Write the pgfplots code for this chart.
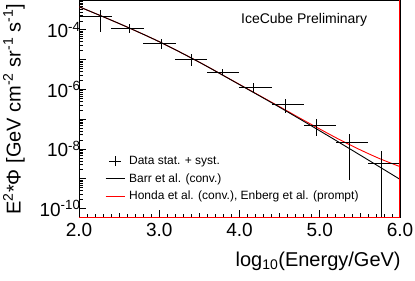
\documentclass[border=0pt]{standalone}
\usepackage{fontspec}
\setmainfont{Liberation Sans}
\usepackage{pgfplots}
\pgfplotsset{compat=1.18}
\usepackage{pgfplotstable}

\pgfplotstableread{
x y xm xp ym yp
2.262 2.91e-4 0.262 0.145 2.045e-4 1.71e-4
2.627 1.125e-4 0.227 0.187 3.42e-5 4.42e-5
3.022 3.53e-5 0.222 0.187 1.25e-5 1.40e-5
3.404 1.05e-5 0.204 0.196 4.2e-6 5.0e-6
3.791 3.77e-6 0.191 0.209 8.2e-7 1.03e-6
4.172 1.15e-6 0.172 0.228 3.2e-7 4.3e-7
4.567 3.02e-7 0.167 0.233 1.43e-7 1.67e-7
4.962 6.21e-8 0.162 0.238 3.45e-8 3.79e-8
5.364 1.64e-8 0.164 0.236 1.5525e-8 1.58e-8
5.772 3.18e-9 0.172 0.228 3.179e-9 5.04e-9
}\data

\pgfplotstableread{
x y
2.0 5.96e-4
2.5 1.622e-4
3.0 3.98e-5
3.5 8.13e-6
4.0 1.445e-6
4.5 2.51e-7
5.0 4.07e-8
5.5 6.31e-9
6.0 9.55e-10
}\barr

\pgfplotstableread{
x y
2.0 5.96e-4
2.5 1.622e-4
3.0 3.98e-5
3.5 8.16e-6
4.0 1.466e-6
4.5 2.62e-7
4.75 1.094e-7
5.0 4.68e-8
5.25 2.04e-8
5.5 9.46e-9
5.75 4.69e-9
6.0 2.55e-9
}\honda

\begin{document}
\begin{tikzpicture}
\useasboundingbox (0,0) rectangle (415pt,281pt);
\begin{axis}[
  at={(79pt,64pt)}, anchor=south west,
  width=321pt, height=217pt, scale only axis,
  xmin=2, xmax=6, ymode=log, ymin=5.2e-11, ymax=1e-3,
  axis line style={black, line width=0.8pt},
  tick align=inside, tick pos=left,
  xtick={2,3,4,5,6}, xticklabels={2.0,3.0,4.0,5.0,6.0},
  minor x tick num=9,
  extra x ticks={2.5,3.5,4.5,5.5}, extra x tick labels={},
  extra x tick style={major tick length=4.5pt},
  ytick={1e-10,1e-9,1e-8,1e-7,1e-6,1e-5,1e-4,1e-3},
  yticklabels={10\textsuperscript{-10},,10\textsuperscript{-8},,10\textsuperscript{-6},,10\textsuperscript{-4},},
  major tick length=7pt, minor tick length=3.5pt,
  tick style={black, line width=0.6pt},
  ticklabel style={font=\fontsize{19}{19}\selectfont},
  xticklabel style={yshift=-3pt},
  yticklabel style={xshift=5pt},
  xlabel={log\textsubscript{10}(Energy/GeV)},
  xlabel style={at={(axis description cs:1.013,-0.229)}, anchor=base east, font=\fontsize{20}{20}\selectfont},
  ylabel={E\textsuperscript{2}*Φ [GeV cm\textsuperscript{-2} sr\textsuperscript{-1} s\textsuperscript{-1}]},
  ylabel style={at={(axis description cs:-0.1822,1)}, anchor=base east, font=\fontsize{20}{20}\selectfont},
  legend cell align=left,
  legend style={at={(rel axis cs:0.081,0.29)}, anchor=north west, draw=none, fill=none,
    font=\fontsize{12}{12}\selectfont, row sep=3.5pt, inner sep=0pt,
    nodes={inner xsep=4pt}},
]
\addplot[red, line width=0.9pt, smooth, forget plot] table {\honda};
\addplot[black, line width=0.9pt, smooth, forget plot] table {\barr};
\addplot[draw=none, mark=none, forget plot,
  error bars/x dir=both, error bars/x explicit,
  error bars/y dir=both, error bars/y explicit,
  error bars/error mark=none,
  error bars/error bar style={draw=black, line width=0.9pt}]
  table[x=x, y=y, x error minus=xm, x error plus=xp, y error minus=ym, y error plus=yp] {\data};
\addplot[red, line width=1pt, forget plot] coordinates {(2,5.2e-11) (6,5.2e-11) (6,1e-3)};
\addlegendimage{legend image code/.code={\draw[black, line width=0.9pt] (3.5pt,0pt) -- (15.5pt,0pt); \draw[black, line width=0.9pt] (9.5pt,-5pt) -- (9.5pt,5pt);}}
\addlegendentry{Data stat. + syst.}
\addlegendimage{legend image code/.code={\draw[black, line width=0.9pt] (0pt,0pt) -- (19pt,0pt);}}
\addlegendentry{Barr et al. (conv.)}
\addlegendimage{legend image code/.code={\draw[red, line width=0.9pt] (0pt,0pt) -- (19pt,0pt);}}
\addlegendentry{Honda et al. (conv.), Enberg et al. (prompt)}
\node[anchor=base east, font=\fontsize{14}{14}\selectfont] at (axis cs:5.635,1.656e-4) {IceCube Preliminary};
\end{axis}
\end{tikzpicture}
\end{document}
